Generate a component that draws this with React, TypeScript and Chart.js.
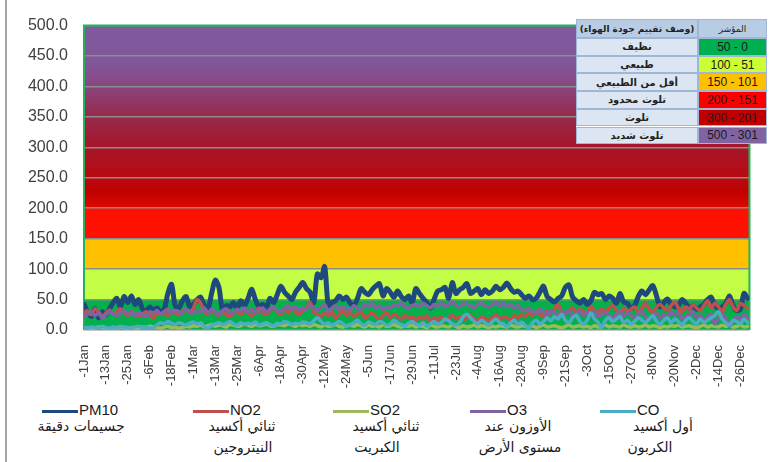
import React, { useEffect, useRef } from "react";
import { Chart, registerables } from "chart.js";

Chart.register(...registerables);

// ---- data (one value every 2 days, starting 1 Jan of a leap year) ----
const dayStep = 2;

const tickDays = [0, 12, 24, 36, 48, 60, 72, 84, 96, 108, 120, 132, 144, 156, 168, 180, 192, 204, 216, 228, 240, 252, 264, 276, 288, 300, 312, 324, 336, 348, 360];
const tickLabels = ["-1Jan", "-13Jan", "-25Jan", "-6Feb", "-18Feb", "-1Mar", "-13Mar", "-25Mar", "-6Apr", "-18Apr", "-30Apr", "-12May", "-24May", "-5Jun", "-17Jun", "-29Jun", "-11Jul", "-23Jul", "-4Aug", "-16Aug", "-28Aug", "-9Sep", "-21Sep", "-3Oct", "-15Oct", "-27Oct", "-8Nov", "-20Nov", "-2Dec", "-14Dec", "-26Dec"];

const yTicks = [0, 50, 100, 150, 200, 250, 300, 350, 400, 450, 500];

const pm10 = [
  42, 30, 22, 35, 20, 30, 25, 35, 45, 52, 38, 55, 45, 56, 42, 50, 35, 30, 38, 32, 36, 30, 34, 60, 75, 40, 36, 48, 55, 38, 42,
  50, 54, 40, 35, 60, 82, 70, 32, 40, 38, 45, 36, 48, 40, 52, 67, 50, 38, 42, 36, 52, 45, 58, 72, 62, 56, 50, 62, 70,
  78, 68, 62, 45, 92, 86, 104, 40, 45, 48, 56, 50, 54, 44, 40, 52, 68, 62, 58, 66, 72, 76, 56, 68, 62, 54, 64, 55, 50, 56,
  45, 68, 60, 52, 45, 36, 50, 64, 66, 70, 52, 78, 60, 66, 70, 76, 60, 64, 68, 58, 66, 60, 64, 72, 66, 70, 77, 68, 62, 64,
  58, 52, 56, 50, 52, 62, 72, 55, 50, 46, 52, 56, 70, 74, 54, 48, 44, 50, 42, 48, 62, 58, 60, 50, 56, 52, 44, 60, 46, 44,
  36, 40, 55, 64, 58, 66, 73, 56, 38, 45, 51, 42, 38, 40, 50, 44, 36, 40, 34, 38, 42, 50, 54, 40, 36, 38, 44, 56, 40, 32, 34, 60, 52,
];

const no2 = [
  28, 32, 25, 35, 30, 22, 28, 33, 26, 30, 35, 28, 24, 30, 27, 22, 26, 30, 25, 20, 28, 26, 30, 24, 32, 28, 25, 30, 34, 28, 36,
  50, 44, 30, 26, 32, 28, 24, 30, 26, 22, 28, 32, 25, 34, 28, 24, 30, 36, 28, 26, 32, 38, 30, 26, 34, 28, 36, 30, 26, 32,
  36, 45, 30, 26, 22, 28, 24, 30, 20, 26, 32, 24, 28, 22, 26, 30, 20, 24, 28, 22, 18, 24, 28, 20, 26, 22, 18, 24, 20, 22,
  16, 22, 18, 24, 14, 20, 17, 22, 15, 19, 24, 18, 22, 16, 20, 24, 18, 15, 22, 18, 16, 20, 24, 18, 22, 20, 16, 24, 20, 26,
  22, 28, 24, 30, 26, 22, 32, 28, 34, 42, 30, 26, 32, 36, 28, 34, 30, 26, 38, 32, 28, 34, 30, 36, 40, 32, 28, 36, 30, 34,
  38, 30, 36, 44, 34, 30, 38, 42, 36, 32, 40, 46, 36, 30, 38, 34, 42, 36, 32, 40, 48, 36, 44, 38, 30, 42, 50, 38, 32, 44, 40, 36,
];

const so2 = [
  3, 4, 2, 3, 5, 4, 3, 2, 4, 3, 5, 4, 3, 4, 2, 3, 5, 4, 6, 5, 4, 3, 5, 6, 4, 5, 3, 4, 6, 5, 7,
  6, 8, 5, 7, 9, 6, 8, 7, 5, 9, 8, 6, 7, 10, 8, 6, 9, 7, 8, 10, 7, 6, 9, 8, 7, 10, 8, 6, 9, 7,
  8, 6, 9, 7, 5, 8, 6, 7, 9, 6, 5, 7, 8, 6, 9, 7, 5, 8, 6, 7, 5, 8, 6, 7, 9, 6, 5, 7, 6, 8,
  5, 7, 6, 4, 8, 6, 5, 7, 6, 5, 8, 6, 4, 7, 5, 6, 8, 5, 7, 6, 4, 6, 5, 7, 6, 5, 8, 6, 5, 7,
  6, 5, 7, 4, 6, 8, 5, 6, 7, 5, 4, 6, 8, 5, 6, 7, 5, 6, 4, 7, 5, 6, 8, 5, 7, 6, 5, 8, 6, 5,
  7, 5, 6, 8, 5, 7, 6, 4, 6, 5, 7, 6, 8, 5, 6, 7, 5, 4, 6, 8, 5, 7, 6, 5, 8, 6, 7, 5, 6, 8, 5, 6,
];

const o3 = [
  22, 26, 30, 24, 28, 20, 25, 30, 27, 24, 28, 32, 26, 30, 24, 28, 26, 22, 30, 28, 32, 26, 30, 34, 28, 32, 30, 27, 34, 30, 28,
  32, 30, 36, 28, 34, 30, 26, 32, 35, 30, 28, 34, 31, 36, 30, 34, 28, 32, 36, 30, 34, 38, 32, 30, 36, 40, 34, 38, 32, 36,
  34, 40, 36, 32, 38, 42, 30, 36, 40, 34, 38, 35, 32, 40, 36, 34, 42, 38, 44, 36, 40, 34, 38, 36, 42, 40, 44, 38, 36, 40,
  42, 38, 44, 40, 36, 42, 40, 44, 38, 42, 46, 40, 38, 44, 42, 40, 36, 42, 44, 40, 38, 42, 46, 40, 44, 38, 42, 36, 40, 34,
  32, 36, 30, 28, 34, 30, 26, 32, 28, 24, 30, 26, 32, 22, 28, 30, 24, 28, 26, 30, 22, 26, 28, 24, 20, 26, 30, 22, 28, 24,
  20, 26, 30, 22, 18, 24, 28, 20, 26, 22, 30, 24, 28, 18, 22, 26, 30, 20, 24, 16, 22, 26, 10, 18, 24, 20, 6, 14, 22, 18, 26, 20,
];

const co = [
  4, 3, 5, 4, 3, 6, 4, 3, 5, 4, 6, 5, 4, 3, 5, 6, 4, 5, 3, 4, 8, 12, 10, 14, 11, 9, 12, 10, 8, 11, 13,
  10, 12, 6, 3, 8, 10, 12, 9, 11, 14, 10, 8, 12, 9, 11, 10, 13, 8, 10, 12, 9, 7, 11, 10, 14, 12, 9, 11, 10, 13,
  12, 10, 15, 20, 14, 9, 12, 8, 11, 14, 10, 6, 9, 12, 16, 10, 8, 13, 11, 9, 14, 12, 8, 10, 16, 12, 9, 7, 11, 14,
  10, 8, 12, 6, 10, 14, 9, 12, 18, 15, 10, 8, 12, 22, 26, 20, 14, 10, 16, 12, 8, 14, 18, 12, 10, 6, 12, 16, 9, 13,
  8, 4, 12, 16, 10, 14, 20, 15, 22, 18, 26, 16, 12, 20, 24, 14, 10, 16, 28, 18, 12, 4, 16, 20, 14, 18, 22, 12, 16, 10,
  14, 20, 16, 12, 18, 24, 14, 10, 16, 20, 12, 18, 14, 8, 16, 20, 14, 10, 18, 12, 16, 20, 24, 30, 18, 12, 8, 16, 14, 10, 18, 12,
];

// AQI table
const aqiRanges = ["50 - 0", "100 - 51", "150 - 101", "200 - 151", "300 - 201", "500 - 301"];
const aqiLabels = ["نظيف", "طبيعي", "أقل من الطبيعي", "تلوث محدود", "تلوث", "تلوث شديد"];
const aqiColors = ["#00b050", "#ccff33", "#ffc000", "#ff0000", "#c00000", "#8064a2"];

// legend
const seriesNames = ["PM10", "NO2", "SO2", "O3", "CO"];
const seriesColors = ["#1f497d", "#c0504d", "#9bbb59", "#8064a2", "#4bacc6"];
const seriesArabic = [
  ["جسيمات دقيقة", ""],
  ["ثنائي أكسيد", "النيتروجين"],
  ["ثنائي أكسيد", "الكبريت"],
  ["الأوزون عند", "مستوى الأرض"],
  ["أول أكسيد", "الكربون"],
];

// background band gradient stops [aqi value, colour]
const bandStops: [number, string][] = [
  [0, "#04b04c"], [50, "#04b04c"],
  [50, "#c4fd46"], [100, "#c4fd46"],
  [100, "#ffc000"], [150, "#ffc000"],
  [150, "#ff1000"], [200, "#ff1000"],
  [200, "#dc0a00"], [228, "#c00000"], [250, "#b80a10"], [300, "#a6162a"],
  [350, "#98294c"], [400, "#8a4680"], [440, "#81579a"], [500, "#7f5a9c"],
];

const bgPlugin = {
  id: "aqiBackground",
  beforeDraw(chart: any) {
    const { ctx, chartArea: a, scales } = chart;
    const y = scales.y;
    const y0 = y.getPixelForValue(0);
    const y1 = y.getPixelForValue(500);
    const g = ctx.createLinearGradient(0, y0, 0, y1);
    bandStops.forEach(([v, c]) => g.addColorStop(v / 500, c));
    ctx.save();
    ctx.fillStyle = g;
    ctx.fillRect(a.left, a.top, a.right - a.left, a.bottom - a.top);
    ctx.restore();
  },
  beforeDatasetsDraw(chart: any) {
    const { ctx, chartArea: a } = chart;
    ctx.save();
    ctx.strokeStyle = "#22b35a";
    ctx.lineWidth = 2;
    ctx.beginPath();
    ctx.moveTo(a.left, a.bottom);
    ctx.lineTo(a.left, a.top);
    ctx.lineTo(a.right, a.top);
    ctx.lineTo(a.right, a.bottom);
    ctx.stroke();
    ctx.restore();
  },
};

function toPoints(arr: number[]) {
  return arr.map((v, i) => ({ x: i * dayStep, y: v }));
}

export default function App() {
  const ref = useRef<HTMLCanvasElement | null>(null);

  useEffect(() => {
    document.body.style.margin = "0";
    const canvas = ref.current;
    if (!canvas) return;
    const allSeries = [pm10, no2, so2, o3, co];
    const widths = [5, 3.5, 3.5, 3.5, 3.5];
    const chart = new Chart(canvas, {
      type: "line",
      data: {
        datasets: allSeries.map((s, i) => ({
          label: seriesNames[i],
          data: toPoints(s),
          borderColor: seriesColors[i],
          backgroundColor: seriesColors[i],
          borderWidth: widths[i],
          pointRadius: 0,
          tension: 0.3,
          borderJoinStyle: "round",
          borderCapStyle: "round",
          order: 5 - i,
          fill: false,
        })),
      },
      options: {
        animation: false,
        responsive: false,
        devicePixelRatio: 1,
        layout: { padding: { left: 0, top: 17, right: 3, bottom: 0 } },
        plugins: { legend: { display: false }, tooltip: { enabled: false } },
        scales: {
          x: {
            type: "linear",
            min: 0,
            max: 365,
            afterBuildTicks: (scale: any) => {
              scale.ticks = tickDays.map((v) => ({ value: v }));
            },
            afterFit: (scale: any) => {
              scale.height = 70;
            },
            grid: { display: false, drawTicks: false },
            border: { display: false },
            ticks: {
              autoSkip: false,
              maxRotation: 90,
              minRotation: 90,
              padding: 15,
              color: "#404040",
              font: { family: "'Liberation Sans', Arial, sans-serif", size: 13 },
              callback: (_v: any, i: number) => tickLabels[i] ?? "",
            },
          },
          y: {
            min: 0,
            max: 500,
            afterBuildTicks: (scale: any) => {
              scale.ticks = yTicks.map((v) => ({ value: v }));
            },
            afterFit: (scale: any) => {
              scale.width = 84;
            },
            grid: { color: "#8c8c8c", lineWidth: 1.5, drawTicks: false },
            border: { display: false },
            ticks: {
              padding: 16,
              color: "#404040",
              font: { family: "'Liberation Sans', Arial, sans-serif", size: 16 },
              callback: (v: any) => Number(v).toFixed(1),
            },
          },
        },
      },
      plugins: [bgPlugin],
    } as any);
    return () => chart.destroy();
  }, []);

  const legendX = [42, 193, 333, 470, 600];
  const arCenters = [
    [81, 0],
    [242, 243],
    [386, 377],
    [518, 520],
    [663, 650],
  ];

  const rowTops = [38, 55.7, 73.4, 91.1, 108.8, 126.5];

  return (
    <div style={{ position: "absolute", left: 0, top: 0, width: 771, height: 462, overflow: "hidden", background: "#fff" }}>
      <div style={{ position: "absolute", left: 5, top: 0, width: 2, height: 462, background: "#a6a6a6" }} />
      <canvas ref={ref} width={771} height={400} style={{ position: "absolute", left: 0, top: 0 }} />

      {/* AQI table */}
      <div style={{ position: "absolute", left: 576, top: 19, width: 191, height: 125, background: "#fff" }}>
        <div style={cellStyle(0, 0, 122, 19, "#b8cce4")}>
          <span style={{ fontFamily: "'DejaVu Sans', sans-serif", fontSize: 9, fontWeight: "bold", color: "#222", direction: "rtl" }}>(وصف تقييم جودة الهواء)</span>
        </div>
        <div style={cellStyle(122, 0, 69, 19, "#b8cce4")}>
          <span style={{ fontFamily: "'DejaVu Sans', sans-serif", fontSize: 9, color: "#222", direction: "rtl" }}>المؤشر</span>
        </div>
        {aqiRanges.map((r, i) => (
          <React.Fragment key={r}>
            <div style={cellStyle(0, rowTops[i] - 19, 122, 17.7, "#dce6f2")}>
              <span style={{ fontFamily: "'DejaVu Sans', sans-serif", fontSize: 10, fontWeight: "bold", color: "#222", direction: "rtl" }}>{aqiLabels[i]}</span>
            </div>
            <div style={cellStyle(122, rowTops[i] - 19, 69, 17.7, aqiColors[i])}>
              <span style={{ fontFamily: "'Liberation Sans', Arial, sans-serif", fontSize: 12, color: "#1a1a1a" }}>{r}</span>
            </div>
          </React.Fragment>
        ))}
      </div>

      {/* legend */}
      {seriesNames.map((n, i) => (
        <React.Fragment key={n}>
          <div style={{ position: "absolute", left: legendX[i], top: 410, width: 36, height: 3, background: seriesColors[i] }} />
          <div style={{ position: "absolute", left: legendX[i] + 37, top: 401, fontFamily: "'Liberation Sans', Arial, sans-serif", fontSize: 15, color: "#1a1a1a", whiteSpace: "nowrap" }}>{n}</div>
          <div style={{ position: "absolute", left: arCenters[i][0], top: 418, transform: "translateX(-50%)", fontFamily: "'DejaVu Sans', sans-serif", fontSize: 14, color: "#1a1a1a", whiteSpace: "nowrap", direction: "rtl" }}>{seriesArabic[i][0]}</div>
          {seriesArabic[i][1] ? (
            <div style={{ position: "absolute", left: arCenters[i][1], top: 439, transform: "translateX(-50%)", fontFamily: "'DejaVu Sans', sans-serif", fontSize: 14, color: "#1a1a1a", whiteSpace: "nowrap", direction: "rtl" }}>{seriesArabic[i][1]}</div>
          ) : null}
        </React.Fragment>
      ))}
    </div>
  );
}

function cellStyle(left: number, top: number, width: number, height: number, bg: string): React.CSSProperties {
  return {
    position: "absolute",
    left,
    top,
    width,
    height,
    boxSizing: "border-box",
    background: bg,
    border: "1px solid #9fb6d6",
    display: "flex",
    alignItems: "center",
    justifyContent: "center",
    overflow: "hidden",
  };
}
